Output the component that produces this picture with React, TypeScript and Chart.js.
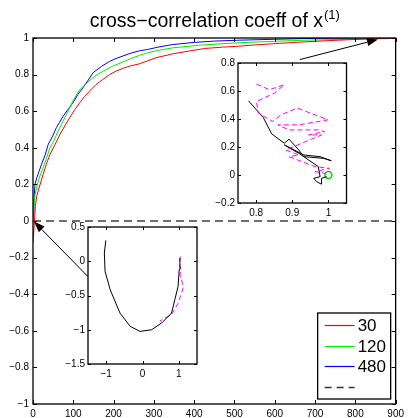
import React, { useEffect, useRef } from 'react';
import { Chart, registerables } from 'chart.js';
Chart.register(...registerables);

const FONT = '"Liberation Sans", Arial, Helvetica, sans-serif';

// ---------- main chart data ----------
const X_TICKS = [0, 100, 200, 300, 400, 500, 600, 700, 800, 900];
const Y_TICKS = [-1, -0.8, -0.6, -0.4, -0.2, 0, 0.2, 0.4, 0.6, 0.8, 1];
const TITLE_MAIN = 'cross\u2212correlation coeff of x';
const TITLE_SUP = '(1)';

const SERIES_LABELS = ['30', '120', '480', ''];
const SERIES_COLORS = ['#ff0000', '#00ee00', '#0000ff', '#6e6e6e'];
const LEGEND_COLORS = ['#ff0000', '#00ee00', '#0000ff', '#333333'];

const RED_X = [0, 3, 6, 9, 15, 25, 33, 42, 55, 67, 79, 91, 104, 116, 128, 140, 156, 173, 190, 206, 222, 239, 264, 284, 305, 346, 390, 428, 470, 510, 550, 592, 635, 675, 720, 757, 800, 839, 870, 900];
const RED_Y = [-0.12, -0.02, 0.08, 0.135, 0.18, 0.254, 0.31, 0.363, 0.42, 0.473, 0.52, 0.564, 0.61, 0.646, 0.68, 0.709, 0.745, 0.773, 0.8, 0.819, 0.833, 0.846, 0.859, 0.875, 0.892, 0.913, 0.93, 0.943, 0.95, 0.955, 0.962, 0.968, 0.974, 0.979, 0.984, 0.988, 0.992, 0.996, 0.998, 1.0];

const GREEN_X = [0, 3, 5, 10, 16, 25, 33, 42, 52, 62, 72, 83, 100, 116, 134, 153, 175, 198, 240, 264, 284, 310, 346, 420, 510, 600, 675, 760, 839, 900];
const GREEN_Y = [0.0, 0.1, 0.145, 0.19, 0.24, 0.29, 0.34, 0.4, 0.44, 0.49, 0.535, 0.582, 0.66, 0.718, 0.755, 0.791, 0.82, 0.846, 0.885, 0.905, 0.919, 0.932, 0.946, 0.962, 0.974, 0.982, 0.988, 0.992, 0.995, 0.998];

const BLUE_X = [0, 2, 5, 10, 15, 21, 30, 38, 48, 58, 66, 75, 87, 99, 111, 124, 137, 149, 170, 190, 206, 240, 264, 284, 310, 346, 400, 450, 510, 600, 675, 750, 840, 900];
const BLUE_Y = [0.03, 0.1, 0.2, 0.24, 0.27, 0.31, 0.36, 0.42, 0.46, 0.51, 0.54, 0.573, 0.61, 0.646, 0.69, 0.728, 0.77, 0.81, 0.845, 0.872, 0.888, 0.915, 0.93, 0.937, 0.95, 0.964, 0.976, 0.983, 0.988, 0.993, 0.997, 0.999, 1.0, 1.0];

const ZERO_X = [0, 900];
const ZERO_Y = [0, 0];

// arrows: [tailX, tailY, tipX, tipY] in main-chart data units
const ARROWS = [
  [662, 0.882, 856, 0.992],
  [136, -0.303, 2.5, -0.003],
];

// ---------- inset 1 (top right) ----------
const IN1_X_TICKS = [0.8, 0.9, 1];
const IN1_Y_TICKS = [-0.2, 0, 0.2, 0.4, 0.6, 0.8];
const IN1_PINK_X = [0.801, 0.837, 0.878, 0.851, 0.801, 0.806, 0.846, 0.869, 0.914, 0.999, 0.918, 0.86, 0.891, 0.972, 0.99, 0.945, 0.981, 0.882, 0.918, 0.891, 0.963, 1.003, 0.963, 0.99, 1.0];
const IN1_PINK_Y = [0.65, 0.609, 0.645, 0.585, 0.525, 0.442, 0.382, 0.43, 0.478, 0.394, 0.358, 0.358, 0.322, 0.322, 0.31, 0.286, 0.286, 0.179, 0.143, 0.131, 0.06, 0.048, 0.024, 0.012, 0.0];
const IN1_BLACK_X = [0.779, 0.82, 0.843, 0.878, 0.891, 0.918, 0.932, 0.986, 1.008, 0.977, 0.932, 0.878, 0.918, 0.972, 0.977, 0.959, 0.968, 0.98, 0.981, 0.995];
const IN1_BLACK_Y = [0.53, 0.41, 0.294, 0.227, 0.256, 0.179, 0.131, 0.119, 0.102, 0.131, 0.143, 0.215, 0.155, 0.06, -0.012, -0.024, -0.048, -0.065, -0.024, -0.012];
const IN1_MARK_X = [1.0];
const IN1_MARK_Y = [0.0];

// ---------- inset 2 (bottom left) ----------
const IN2_X_TICKS = [-1, 0, 1];
const IN2_Y_TICKS = [-1.5, -1, -0.5, 0, 0.5];
const IN2_BLACK_X = [-1.01, -1.05, -1.03, -0.89, -0.62, -0.34, -0.07, 0.25, 0.53, 0.8, 0.89, 0.98, 1.01, 1.03];
const IN2_BLACK_Y = [0.304, 0.12, -0.148, -0.415, -0.756, -0.95, -1.024, -1.0, -0.9, -0.756, -0.56, -0.367, -0.123, 0.047];
const IN2_PINK_X = [1.04, 1.02, 1.06, 1.03, 1.07, 1.12, 1.05, 0.98, 0.8, 0.48];
const IN2_PINK_Y = [0.07, -0.05, -0.12, -0.2, -0.25, -0.39, -0.5, -0.61, -0.78, -0.87];

const fmt = (v: number) => {
  const r = Math.round(v * 100) / 100;
  return r < 0 ? '\u2212' + String(-r) : String(r);
};
const pts = (xs: number[], ys: number[]) => xs.map((x, i) => ({ x, y: ys[i] }));

const framePlugin = (tickLen: number) => ({
  id: 'frame' + tickLen,
  afterDraw(chart: any) {
    const { ctx, chartArea: ca, scales } = chart;
    ctx.save();
    ctx.strokeStyle = '#000';
    ctx.lineWidth = 1;
    ctx.beginPath();
    scales.x.ticks.forEach((t: any) => {
      const p = Math.round(scales.x.getPixelForValue(t.value)) + 0.5;
      ctx.moveTo(p, ca.bottom); ctx.lineTo(p, ca.bottom - tickLen);
      ctx.moveTo(p, ca.top); ctx.lineTo(p, ca.top + tickLen);
    });
    scales.y.ticks.forEach((t: any) => {
      const p = Math.round(scales.y.getPixelForValue(t.value)) + 0.5;
      ctx.moveTo(ca.left, p); ctx.lineTo(ca.left + tickLen, p);
      ctx.moveTo(ca.right, p); ctx.lineTo(ca.right - tickLen, p);
    });
    ctx.stroke();
    ctx.lineWidth = 1.3;
    ctx.strokeRect(ca.left, ca.top, ca.right - ca.left, ca.bottom - ca.top);
    ctx.restore();
  },
});

const axis = (min: number, max: number, ticks: number[], size: number, horizontal: boolean, pad: number) => ({
  type: 'linear' as const,
  min, max,
  grid: { display: false, drawTicks: false, tickLength: 0 },
  border: { display: false },
  ticks: {
    font: { family: FONT, size: 10 },
    color: '#000',
    padding: pad,
    autoSkip: false,
    maxRotation: 0,
    callback: (v: any) => fmt(Number(v)),
  },
  afterBuildTicks: (s: any) => { s.ticks = ticks.map((v) => ({ value: v })); },
  afterFit: (s: any) => { if (horizontal) s.height = size; else s.width = size; },
});

const mainPlugin = {
  id: 'mainDecor',
  afterDraw(chart: any) {
    const { ctx, chartArea: ca, scales } = chart;
    ctx.save();
    // title
    ctx.fillStyle = '#000';
    ctx.textBaseline = 'alphabetic';
    ctx.font = `19.5px ${FONT}`;
    const w1 = ctx.measureText(TITLE_MAIN).width;
    ctx.font = `13px ${FONT}`;
    const w2 = ctx.measureText(TITLE_SUP).width;
    const cx = (ca.left + ca.right) / 2;
    const sx = cx - (w1 + w2) / 2;
    ctx.font = `19.5px ${FONT}`;
    ctx.fillText(TITLE_MAIN, sx, ca.top - 11);
    ctx.font = `13px ${FONT}`;
    ctx.fillText(TITLE_SUP, sx + w1 + 1, ca.top - 19);
    // arrows
    ctx.strokeStyle = '#000';
    ctx.fillStyle = '#000';
    ctx.lineWidth = 1;
    ARROWS.forEach(([x0, y0, x1, y1]) => {
      const ax = scales.x.getPixelForValue(x0), ay = scales.y.getPixelForValue(y0);
      const bx = scales.x.getPixelForValue(x1), by = scales.y.getPixelForValue(y1);
      const ang = Math.atan2(by - ay, bx - ax);
      const hl = 11, hw = 4;
      const baseX = bx - hl * Math.cos(ang), baseY = by - hl * Math.sin(ang);
      ctx.beginPath();
      ctx.moveTo(ax, ay); ctx.lineTo(baseX, baseY);
      ctx.stroke();
      ctx.beginPath();
      ctx.moveTo(bx, by);
      ctx.lineTo(baseX + hw * Math.sin(ang), baseY - hw * Math.cos(ang));
      ctx.lineTo(baseX - hw * Math.sin(ang), baseY + hw * Math.cos(ang));
      ctx.closePath();
      ctx.fill();
    });
    // legend
    const bw = 73, bh = 86;
    const lx = ca.right - 5 - bw, ly = ca.bottom - 5 - bh;
    ctx.fillStyle = '#fff';
    ctx.fillRect(lx, ly, bw, bh);
    ctx.lineWidth = 1.3;
    ctx.strokeStyle = '#000';
    ctx.strokeRect(lx, ly, bw, bh);
    SERIES_LABELS.forEach((label, i) => {
      const y = Math.round(ly + 12 + i * 20.5) + 0.5;
      ctx.beginPath();
      ctx.strokeStyle = LEGEND_COLORS[i];
      ctx.lineWidth = i === 3 ? 1.5 : 1.2;
      ctx.setLineDash(i === 3 ? [7, 5] : []);
      ctx.moveTo(lx + 7, y);
      ctx.lineTo(lx + 37, y);
      ctx.stroke();
      ctx.setLineDash([]);
      ctx.fillStyle = '#000';
      ctx.font = `17px ${FONT}`;
      ctx.textBaseline = 'middle';
      ctx.fillText(label, lx + 40, y + 1);
    });
    ctx.restore();
  },
};

function MainChart() {
  const ref = useRef<HTMLCanvasElement>(null);
  useEffect(() => {
    const series = [pts(RED_X, RED_Y), pts(GREEN_X, GREEN_Y), pts(BLUE_X, BLUE_Y), pts(ZERO_X, ZERO_Y)];
    const chart = new Chart(ref.current!, {
      type: 'scatter',
      data: {
        datasets: series.map((d, i) => ({
          label: SERIES_LABELS[i],
          data: d,
          showLine: true,
          borderColor: SERIES_COLORS[i],
          backgroundColor: SERIES_COLORS[i],
          borderWidth: i === 3 ? 2 : 1,
          borderDash: i === 3 ? [8, 5] : undefined,
          pointRadius: 0,
          tension: 0,
        })),
      },
      options: {
        animation: false,
        responsive: false,
        layout: { padding: { left: 0, top: 38, right: 10, bottom: 0 } },
        plugins: { legend: { display: false }, tooltip: { enabled: false }, title: { display: false } },
        scales: {
          x: axis(0, 900, X_TICKS, 14, true, 4),
          y: axis(-1, 1, Y_TICKS, 33, false, 4),
        },
      },
      plugins: [framePlugin(4), mainPlugin],
    });
    return () => chart.destroy();
  }, []);
  return <canvas ref={ref} width={408} height={418} style={{ position: 'absolute', left: 0, top: 0 }} />;
}

type InsetProps = {
  left: number; top: number; width: number; height: number;
  yw: number; xh: number; padTop: number; padRight: number;
  xr: [number, number]; yr: [number, number]; xt: number[]; yt: number[];
  datasets: any[];
};

function Inset(p: InsetProps) {
  const ref = useRef<HTMLCanvasElement>(null);
  useEffect(() => {
    const chart = new Chart(ref.current!, {
      type: 'scatter',
      data: { datasets: p.datasets },
      options: {
        animation: false,
        responsive: false,
        layout: { padding: { left: 0, top: p.padTop, right: p.padRight, bottom: 0 } },
        plugins: { legend: { display: false }, tooltip: { enabled: false } },
        scales: {
          x: axis(p.xr[0], p.xr[1], p.xt, p.xh, true, 4),
          y: axis(p.yr[0], p.yr[1], p.yt, p.yw, false, 3),
        },
      },
      plugins: [framePlugin(3)],
    });
    return () => chart.destroy();
  }, []);
  return <canvas ref={ref} width={p.width} height={p.height} style={{ position: 'absolute', left: p.left, top: p.top }} />;
}

const line = (data: any, color: string, dash?: number[]) => ({
  data, showLine: true, borderColor: color, backgroundColor: color, borderWidth: 1,
  borderDash: dash, pointRadius: 0, tension: 0,
});

export default function App() {
  const inset1 = [
    line(pts(IN1_PINK_X, IN1_PINK_Y), '#ff00ff', [5, 3]),
    line(pts(IN1_BLACK_X, IN1_BLACK_Y), '#000'),
    { data: pts(IN1_MARK_X, IN1_MARK_Y), showLine: false, pointRadius: 3.5, pointBorderWidth: 1.5, pointBorderColor: '#00dd00', pointBackgroundColor: 'rgba(0,0,0,0)' },
  ];
  const inset2 = [
    line(pts(IN2_BLACK_X, IN2_BLACK_Y), '#000'),
    line(pts(IN2_PINK_X, IN2_PINK_Y), '#ff00ff', [5, 3]),
  ];
  return (
    <div style={{ position: 'absolute', left: 0, top: 0, width: 408, height: 418, background: '#fff' }}>
      <MainChart />
      <Inset left={200} top={52} width={152} height={170} yw={38} xh={19} padTop={11} padRight={4}
        xr={[0.75, 1.05]} yr={[-0.2, 0.8]} xt={IN1_X_TICKS} yt={IN1_Y_TICKS} datasets={inset1} />
      <Inset left={50} top={215} width={152} height={170} yw={38} xh={21} padTop={12} padRight={5}
        xr={[-1.5, 1.5]} yr={[-1.5, 0.5]} xt={IN2_X_TICKS} yt={IN2_Y_TICKS} datasets={inset2} />
    </div>
  );
}
